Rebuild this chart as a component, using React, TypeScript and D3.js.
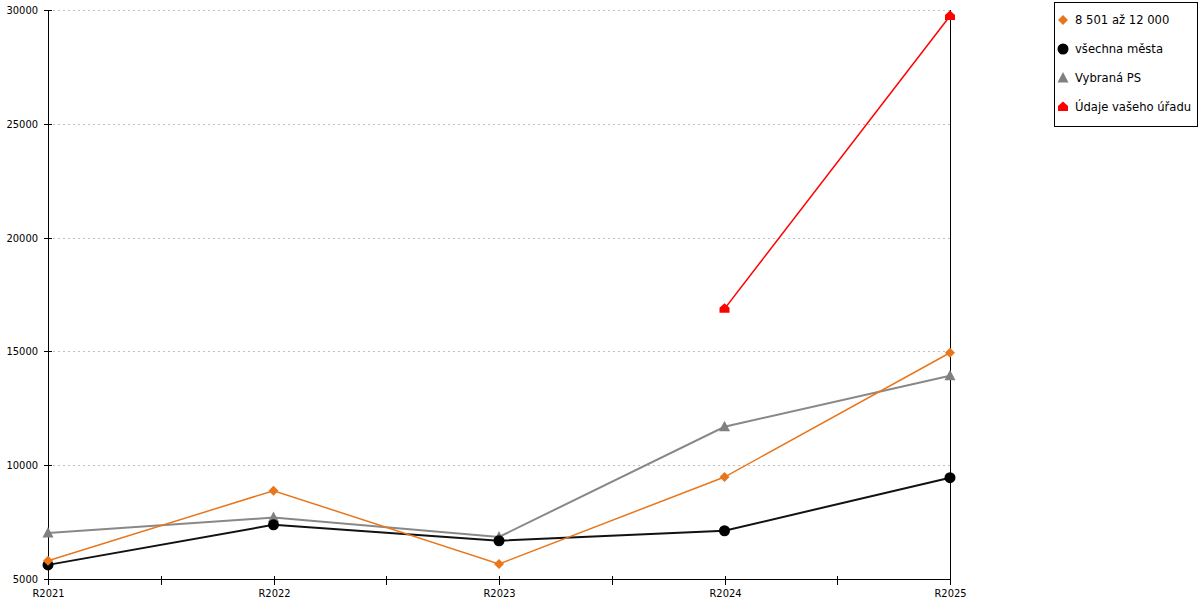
import { useEffect, useRef } from "react";
import * as d3 from "d3";

const WIDTH = 1200;
const HEIGHT = 600;
const MARGIN = { top: 10, right: 250, bottom: 21, left: 48 };

const CATEGORIES = ["R2021", "R2022", "R2023", "R2024", "R2025"];
const Y_TICKS = [5000, 10000, 15000, 20000, 25000, 30000];

const SERIES_NAMES = ["8 501 až 12 000", "všechna města", "Vybraná PS", "Údaje vašeho úřadu"];
const ORANGE_VALUES = [5800, 8880, 5660, 9480, 14940];
const BLACK_VALUES = [5620, 7380, 6680, 7120, 9450];
const GRAY_VALUES = [7020, 7700, 6850, 11690, 13930];
const RED_VALUES: (number | null)[] = [null, null, null, 16870, 29740];

const COLOR_ORANGE = "#e8761c";
const COLOR_BLACK = "#111111";
const COLOR_GRAY = "#888888";
const COLOR_RED = "#ff0000";
const COLOR_GRID = "#c0c0c0";
const FONT = "'DejaVu Sans', Verdana, sans-serif";
const TICK_FONT = "'DejaVu Sans Condensed', 'DejaVu Sans', sans-serif";

type Marker = "diamond" | "circle" | "triangle" | "house";

function markerPath(kind: Marker, cx: number, cy: number): string {
  if (kind === "diamond") {
    const r = 5;
    return `M${cx},${cy - r}L${cx + r},${cy}L${cx},${cy + r}L${cx - r},${cy}Z`;
  }
  if (kind === "triangle") {
    return `M${cx},${cy - 6}L${cx + 5.5},${cy + 4.5}L${cx - 5.5},${cy + 4.5}Z`;
  }
  if (kind === "house") {
    return `M${cx},${cy - 5.5}L${cx + 5},${cy - 1}L${cx + 5},${cy + 4}L${cx - 5},${cy + 4}L${cx - 5},${cy - 1}Z`;
  }
  const r = 5.5;
  return `M${cx - r},${cy}a${r},${r} 0 1,0 ${2 * r},0a${r},${r} 0 1,0 ${-2 * r},0Z`;
}

export default function App() {
  const svgRef = useRef<SVGSVGElement>(null);

  useEffect(() => {
    const svg = d3.select(svgRef.current);
    svg.selectAll("*").remove();

    const x = d3
      .scalePoint<string>()
      .domain(CATEGORIES)
      .range([MARGIN.left, WIDTH - MARGIN.right]);
    const y = d3
      .scaleLinear()
      .domain([5000, 30000])
      .range([HEIGHT - MARGIN.bottom, MARGIN.top]);

    const x0 = MARGIN.left;
    const x1 = WIDTH - MARGIN.right;
    const yBottom = HEIGHT - MARGIN.bottom;

    // Dashed gridlines
    Y_TICKS.filter((t) => t !== 5000).forEach((t) => {
      svg
        .append("line")
        .attr("x1", x0 + 5)
        .attr("x2", x1)
        .attr("y1", Math.round(y(t)) + 0.5)
        .attr("y2", Math.round(y(t)) + 0.5)
        .attr("stroke", COLOR_GRID)
        .attr("stroke-width", 1)
        .attr("stroke-dasharray", "2,3");
    });

    // Y axis
    svg
      .append("line")
      .attr("x1", x0 + 0.5)
      .attr("x2", x0 + 0.5)
      .attr("y1", MARGIN.top)
      .attr("y2", yBottom + 4)
      .attr("stroke", "#000");
    Y_TICKS.forEach((t) => {
      const ty = Math.round(y(t)) + 0.5;
      svg
        .append("line")
        .attr("x1", x0 - 4)
        .attr("x2", x0 + 4)
        .attr("y1", ty)
        .attr("y2", ty)
        .attr("stroke", "#000");
      svg
        .append("text")
        .attr("x", x0 - 10)
        .attr("y", ty)
        .attr("text-anchor", "end")
        .attr("dominant-baseline", "central")
        .attr("font-family", TICK_FONT)
        .attr("font-size", "11px")
        .attr("fill", "#000")
        .text(t);
    });

    // Right border line at last category
    svg
      .append("line")
      .attr("x1", x1 + 0.5)
      .attr("x2", x1 + 0.5)
      .attr("y1", MARGIN.top)
      .attr("y2", yBottom + 4)
      .attr("stroke", "#000");

    // X axis
    svg
      .append("line")
      .attr("x1", x0)
      .attr("x2", x1)
      .attr("y1", yBottom + 0.5)
      .attr("y2", yBottom + 0.5)
      .attr("stroke", "#000");
    const step = x.step();
    CATEGORIES.forEach((c, i) => {
      const cx = Math.round(x(c) ?? 0) + 0.5;
      const ticks = i < CATEGORIES.length - 1 ? [cx, Math.round((x(c) ?? 0) + step / 2) + 0.5] : [cx];
      ticks.forEach((tx) => {
        svg
          .append("line")
          .attr("x1", tx)
          .attr("x2", tx)
          .attr("y1", yBottom - 3)
          .attr("y2", yBottom + 6)
          .attr("stroke", "#000");
      });
      svg
        .append("text")
        .attr("x", cx)
        .attr("y", yBottom + 18)
        .attr("text-anchor", "middle")
        .attr("font-family", TICK_FONT)
        .attr("font-size", "11px")
        .attr("fill", "#000")
        .text(c);
    });

    const series: { values: (number | null)[]; color: string; fill: string; width: number; marker: Marker }[] = [
      { values: GRAY_VALUES, color: COLOR_GRAY, fill: "#808080", width: 2, marker: "triangle" },
      { values: BLACK_VALUES, color: COLOR_BLACK, fill: "#000", width: 2, marker: "circle" },
      { values: ORANGE_VALUES, color: COLOR_ORANGE, fill: COLOR_ORANGE, width: 1.5, marker: "diamond" },
      { values: RED_VALUES, color: COLOR_RED, fill: COLOR_RED, width: 1.5, marker: "house" },
    ];

    series.forEach((s) => {
      const pts = s.values
        .map((v, i) => ({ c: CATEGORIES[i], v }))
        .filter((d) => d.v !== null) as { c: string; v: number }[];
      const line = d3
        .line<{ c: string; v: number }>()
        .x((d) => x(d.c) ?? 0)
        .y((d) => y(d.v));
      svg
        .append("path")
        .attr("d", line(pts))
        .attr("fill", "none")
        .attr("stroke", s.color)
        .attr("stroke-width", s.width);
      pts.forEach((d) => {
        svg
          .append("path")
          .attr("d", markerPath(s.marker, x(d.c) ?? 0, y(d.v)))
          .attr("fill", s.fill);
      });
    });

    // Legend
    const legend = svg.append("g");
    legend
      .append("rect")
      .attr("x", 1054.5)
      .attr("y", 2.5)
      .attr("width", 143)
      .attr("height", 124)
      .attr("fill", "#fff")
      .attr("stroke", "#000");
    SERIES_NAMES.forEach((name, i) => {
      const ly = 20 + i * 29;
      legend
        .append("path")
        .attr("d", markerPath(series[[2, 1, 0, 3][i]].marker, 1063, ly))
        .attr("fill", series[[2, 1, 0, 3][i]].fill);
      legend
        .append("text")
        .attr("x", 1075)
        .attr("y", ly)
        .attr("dominant-baseline", "central")
        .attr("font-family", FONT)
        .attr("font-size", "11.6px")
        .attr("fill", "#000")
        .text(name);
    });
  }, []);

  return (
    <svg
      ref={svgRef}
      width={WIDTH}
      height={HEIGHT}
      style={{ position: "absolute", left: 0, top: 0, background: "#fff" }}
    />
  );
}
